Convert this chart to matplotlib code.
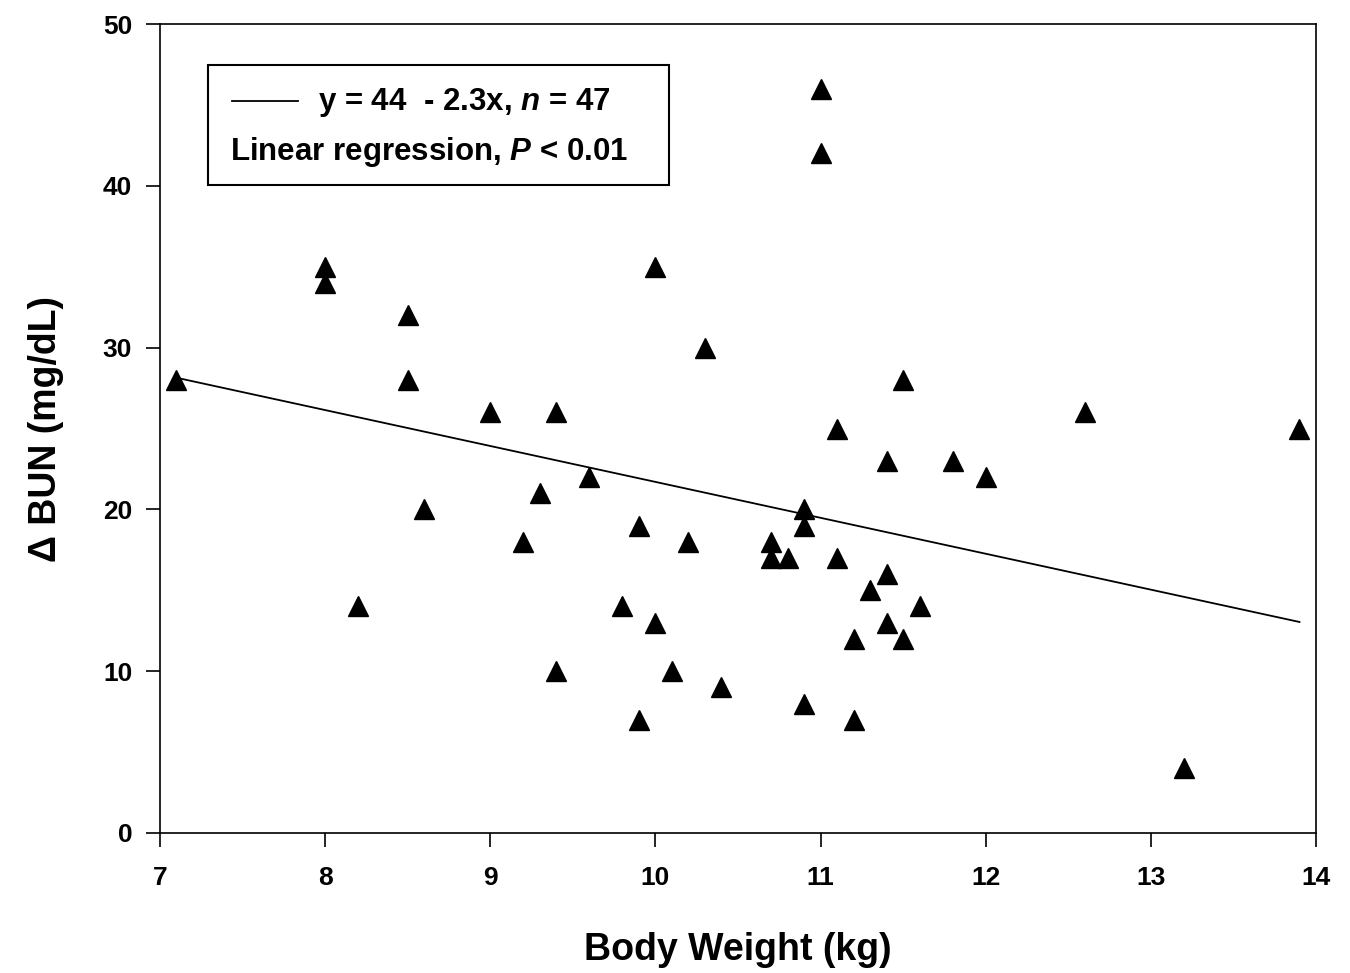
import matplotlib.pyplot as plt
from matplotlib.patches import Rectangle
from matplotlib.lines import Line2D

plt.rcParams['font.family'] = ['Liberation Sans', 'DejaVu Sans']
plt.rcParams['font.weight'] = 'bold'
plt.rcParams['axes.labelweight'] = 'bold'
plt.rcParams['mathtext.fontset'] = 'custom'
plt.rcParams['mathtext.it'] = 'Liberation Sans:italic:bold'
plt.rcParams['mathtext.rm'] = 'Liberation Sans:bold'

body_weight = [7.1, 8.0, 8.0, 8.2, 8.5, 8.5, 8.6, 9.0, 9.2, 9.3, 9.4, 9.4,
               9.6, 9.8, 9.9, 9.9, 10.0, 10.0, 10.1, 10.2, 10.3, 10.4, 10.7,
               10.7, 10.8, 10.9, 10.9, 10.9, 11.0, 11.0, 11.1, 11.1, 11.2,
               11.2, 11.3, 11.4, 11.4, 11.4, 11.5, 11.5, 11.6, 11.8, 12.0,
               12.6, 13.2, 13.9]
delta_bun = [28, 35, 34, 14, 32, 28, 20, 26, 18, 21, 26, 10,
             22, 14, 19, 7, 35, 13, 10, 18, 30, 9, 18,
             17, 17, 20, 19, 8, 46, 42, 25, 17, 12,
             7, 15, 23, 16, 13, 28, 12, 14, 23, 22,
             26, 4, 25]

fit_intercept = 43.9
fit_slope = -2.22
fit_range = [7.1, 13.9]

fig = plt.figure(figsize=(13.5, 9.73), dpi=100)
ax = fig.add_axes([0.1185, 0.1439, 0.8563, 0.8314])

fit_y = [fit_intercept + fit_slope * x for x in fit_range]
ax.plot(fit_range, fit_y, color='black', linewidth=1.3)
ax.plot(body_weight, delta_bun, '^', color='black', markersize=15, linestyle='none')

ax.set_xlim(7, 14)
ax.set_ylim(0, 50)
ax.set_xticks(range(7, 15))
ax.set_yticks(range(0, 51, 10))
ax.tick_params(direction='out', length=10, width=1.2, labelsize=19)
ax.tick_params(axis='x', pad=14)
ax.tick_params(axis='y', pad=10)
for s in ax.spines.values():
    s.set_linewidth(1.2)

ax.set_xlabel('Body Weight (kg)', fontsize=27, labelpad=30)
ax.set_ylabel('Δ BUN (mg/dL)', fontsize=27, labelpad=28)

# legend box drawn by hand
ax.add_patch(Rectangle((0.0415, 0.801), 0.3988, 0.148, transform=ax.transAxes,
                       fill=False, edgecolor='black', linewidth=1.5))
ax.add_line(Line2D([0.0623, 0.1194], [0.905, 0.905], transform=ax.transAxes,
                   color='black', linewidth=1.3))
ax.text(0.137, 0.903, r'y = 44  - 2.3x, $\mathit{n}$ = 47', transform=ax.transAxes,
        fontsize=22.5, va='center', ha='left')
ax.text(0.0606, 0.842, r'Linear regression, $\mathit{P}$ < 0.01', transform=ax.transAxes,
        fontsize=22.5, va='center', ha='left')

fig.savefig('out.png', dpi=100)
